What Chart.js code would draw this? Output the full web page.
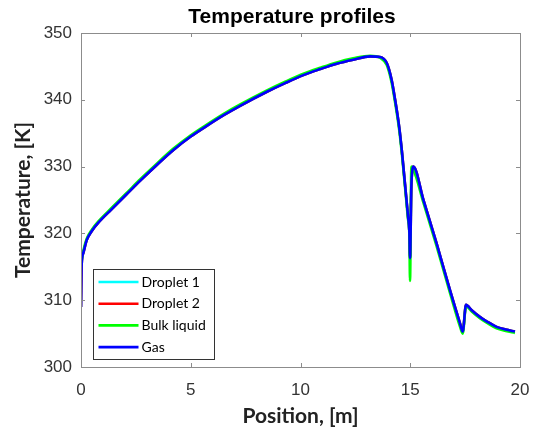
<!DOCTYPE html>
<html>
<head>
<meta charset="utf-8">
<script src="https://cdn.jsdelivr.net/npm/chart.js@4.4.1/dist/chart.umd.min.js"></script>
<style>
html,body{margin:0;padding:0;background:#fff;}
</style>
</head>
<body>
<canvas id="chart" width="533" height="430"></canvas>
<script>
// positions along the column, [m]
const position = [0, 0.03, 0.1, 0.26, 0.5, 0.79, 1.39, 2.15, 2.7, 3.5, 4.21, 5.0, 5.73, 6.5, 7.25, 8.47, 9.3, 10.13, 10.9, 11.65, 12.4, 13.17, 13.62, 13.93, 14.15, 14.31, 14.46, 14.53, 14.61, 14.68, 14.8, 14.9, 14.96, 14.99, 15.05, 15.1, 15.14, 15.6, 16.2, 16.81, 17.27, 17.39, 17.54, 17.8, 18.17, 18.5, 18.93, 19.35, 19.77];

// temperatures, [K]
const droplet1Temp = [309.0, 315.3, 317.0, 319.0, 320.4, 321.6, 323.6, 326.1, 327.9, 330.4, 332.5, 334.5, 336.1, 337.7, 339.1, 341.2, 342.5, 343.7, 344.6, 345.4, 346.0, 346.5, 346.4, 345.5, 343.0, 340.0, 336.8, 335.0, 332.6, 330.2, 326.0, 322.5, 320.2, 316.3, 327.0, 329.6, 330.0, 325.0, 318.5, 311.5, 306.5, 305.3, 309.3, 308.5, 307.5, 306.8, 306.0, 305.6, 305.3];
const droplet2Temp = [309.0, 315.3, 317.0, 319.0, 320.4, 321.6, 323.6, 326.1, 327.9, 330.4, 332.5, 334.5, 336.1, 337.7, 339.1, 341.2, 342.5, 343.7, 344.6, 345.4, 346.0, 346.5, 346.4, 345.5, 343.0, 340.0, 336.8, 335.0, 332.6, 330.2, 326.0, 322.5, 320.2, 316.3, 327.0, 329.6, 330.0, 325.0, 318.5, 311.5, 306.5, 305.3, 309.3, 308.5, 307.5, 306.8, 306.0, 305.6, 305.3];
const bulkTemp = [315.7, 316.0, 317.3, 319.2, 320.6, 321.8, 323.8, 326.3, 328.1, 330.6, 332.7, 334.7, 336.3, 337.9, 339.3, 341.4, 342.7, 343.9, 344.8, 345.6, 346.2, 346.6, 346.3, 345.2, 342.6, 339.6, 336.4, 334.6, 332.2, 329.8, 325.6, 322.1, 319.8, 312.9, 330.0, 329.6, 329.5, 324.6, 318.1, 311.1, 306.0, 305.0, 309.1, 308.3, 307.3, 306.6, 305.8, 305.4, 305.1];
const gasTemp = [309.0, 315.3, 317.0, 319.0, 320.4, 321.6, 323.6, 326.1, 327.9, 330.4, 332.5, 334.5, 336.1, 337.7, 339.1, 341.2, 342.5, 343.7, 344.6, 345.4, 346.0, 346.5, 346.4, 345.5, 343.0, 340.0, 336.8, 335.0, 332.6, 330.2, 326.0, 322.5, 320.2, 316.3, 327.0, 329.6, 330.0, 325.0, 318.5, 311.5, 306.5, 305.3, 309.3, 308.5, 307.5, 306.8, 306.0, 305.6, 305.3];

const seriesNames = ['Droplet 1', 'Droplet 2', 'Bulk liquid', 'Gas'];
const seriesColors = ['#00ffff', '#ff0000', '#00ff00', '#0000ff'];
const xTicks = [0, 5, 10, 15, 20];
const yTicks = [300, 310, 320, 330, 340, 350];
const chartTitle = 'Temperature profiles';

const allTemps = [droplet1Temp, droplet2Temp, bulkTemp, gasTemp];

function pts(temps) {
  return position.map((x, i) => ({ x: x, y: temps[i] }));
}

const datasets = allTemps.map((t, i) => ({
  label: seriesNames[i],
  data: pts(t),
  borderColor: seriesColors[i],
  backgroundColor: seriesColors[i],
  borderWidth: 2.6,
  showLine: true,
  pointRadius: 0,
  cubicInterpolationMode: 'monotone',
  order: seriesNames.length - 1 - i
}));

// matlab style box, inward ticks, title over the axes and legend inside
const matlabBox = {
  id: 'matlabBox',
  afterDraw(chart) {
    const ctx = chart.ctx;
    const a = chart.chartArea;
    const xs = chart.scales.x, ys = chart.scales.y;
    ctx.save();
    ctx.strokeStyle = '#8c8c8c';
    ctx.lineWidth = 1;
    ctx.strokeRect(Math.round(a.left) + 0.5, Math.round(a.top) + 0.5, Math.round(a.right - a.left), Math.round(a.bottom - a.top));
    ctx.beginPath();
    xTicks.forEach(v => {
      const px = Math.round(xs.getPixelForValue(v)) + 0.5;
      ctx.moveTo(px, a.bottom); ctx.lineTo(px, a.bottom - 4);
      ctx.moveTo(px, a.top); ctx.lineTo(px, a.top + 4);
    });
    yTicks.forEach(v => {
      const py = Math.round(ys.getPixelForValue(v)) + 0.5;
      ctx.moveTo(a.left, py); ctx.lineTo(a.left + 4, py);
      ctx.moveTo(a.right, py); ctx.lineTo(a.right - 4, py);
    });
    ctx.stroke();

    // title
    ctx.fillStyle = '#000';
    ctx.font = 'bold 21px "Liberation Sans"';
    ctx.textAlign = 'center';
    ctx.textBaseline = 'middle';
    ctx.fillText(chartTitle, 292, 17);

    // legend
    const lx = 93.5, ly = 269.5, lw = 121, lh = 90;
    ctx.fillStyle = '#fff';
    ctx.fillRect(lx, ly, lw, lh);
    ctx.strokeStyle = '#333';
    ctx.strokeRect(lx, ly, lw, lh);
    ctx.font = '14px Lato';
    ctx.textAlign = 'left';
    chart.data.datasets.forEach((ds, i) => {
      const y = ly + 12.5 + i * 21.7;
      ctx.strokeStyle = ds.borderColor;
      ctx.lineWidth = 2.6;
      ctx.beginPath();
      ctx.moveTo(lx + 5, y); ctx.lineTo(lx + 45, y);
      ctx.stroke();
      ctx.fillStyle = '#000';
      ctx.fillText(ds.label, lx + 48, y);
    });
    ctx.restore();
  }
};

new Chart(document.getElementById('chart'), {
  type: 'scatter',
  data: { datasets: datasets },
  plugins: [matlabBox],
  options: {
    responsive: false,
    animation: false,
    devicePixelRatio: 1,
    layout: { padding: { left: 0, right: 13, top: 33, bottom: 0 } },
    plugins: {
      legend: { display: false },
      tooltip: { enabled: false },
      title: { display: false }
    },
    scales: {
      x: {
        type: 'linear',
        min: 0, max: 20,
        afterFit(s) { s.height = 63; s.paddingLeft = 0; s.paddingRight = 0; },
        afterBuildTicks(s) { s.ticks = xTicks.map(v => ({ value: v })); },
        grid: { display: false, drawTicks: false },
        border: { display: false },
        ticks: { color: '#333', padding: 13, maxRotation: 0, font: { family: 'Liberation Sans', size: 17 } },
        title: { display: true, text: 'Position, [m]', color: '#222', font: { family: 'Lato', size: 21, weight: 'bold' }, padding: { top: 0, bottom: 1.5 } }
      },
      y: {
        type: 'linear',
        min: 300, max: 350,
        afterFit(s) { s.width = 81; s.paddingTop = 0; s.paddingBottom = 0; },
        afterBuildTicks(s) { s.ticks = yTicks.map(v => ({ value: v })); },
        grid: { display: false, drawTicks: false },
        border: { display: false },
        ticks: { color: '#333', padding: 9, font: { family: 'Liberation Sans', size: 17 } },
        title: { display: true, text: 'Temperature, [K]', color: '#222', font: { family: 'Lato', size: 21, weight: 'bold' }, padding: { top: 11, bottom: 0 } }
      }
    }
  }
});
</script>
</body>
</html>
